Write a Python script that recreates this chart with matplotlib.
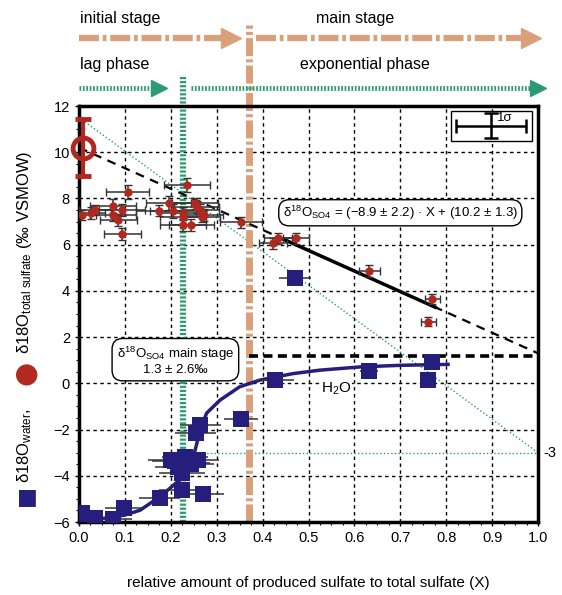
import numpy as np
import matplotlib.pyplot as plt

plt.rcParams['font.family'] = ['Liberation Sans', 'DejaVu Sans']
plt.rcParams['mathtext.fontset'] = 'custom'
plt.rcParams['mathtext.rm'] = 'Liberation Sans'
plt.rcParams['mathtext.it'] = 'Liberation Sans:italic'

# sulfate d18O (red)
so4_x = [0.006, 0.026, 0.035, 0.075, 0.075, 0.086, 0.094, 0.106, 0.094, 0.175,
         0.195, 0.205, 0.235, 0.226, 0.226, 0.226, 0.245, 0.253, 0.256, 0.264,
         0.267, 0.273, 0.353, 0.423, 0.434, 0.473, 0.632, 0.770, 0.761]
so4_y = [7.28, 7.38, 7.50, 7.67, 7.28, 7.06, 7.50, 8.29, 6.46, 7.47,
         7.79, 7.47, 8.58, 7.35, 7.21, 6.85, 6.85, 7.79, 7.64, 7.50,
         7.21, 7.28, 6.96, 6.06, 6.27, 6.27, 4.86, 3.65, 2.66]
so4_xerr = [0.03, 0.03, 0.035, 0.05, 0.05, 0.04, 0.05, 0.047, 0.04, 0.05,
            0.05, 0.05, 0.05, 0.05, 0.05, 0.05, 0.05, 0.05, 0.05, 0.04,
            0.04, 0.04, 0.045, 0.03, 0.03, 0.028, 0.023, 0.016, 0.016]
so4_yerr = [0.2, 0.25, 0.2, 0.3, 0.25, 0.25, 0.25, 0.3, 0.25, 0.25,
            0.3, 0.3, 0.3, 0.3, 0.3, 0.25, 0.25, 0.25, 0.25, 0.25,
            0.25, 0.25, 0.25, 0.25, 0.25, 0.25, 0.25, 0.2, 0.2]

# total sulfate at start
tot_x, tot_y, tot_yerr = 0.008, 10.2, 1.25

# water d18O (blue)
h2o_x = [0.006, 0.035, 0.075, 0.097, 0.176, 0.224, 0.271, 0.20, 0.215, 0.23,
         0.245, 0.26, 0.225, 0.235, 0.21, 0.254, 0.264, 0.352, 0.428, 0.632,
         0.770, 0.761, 0.471]
h2o_y = [-5.6, -5.84, -5.85, -5.38, -4.98, -4.6, -4.77, -3.3, -3.6, -3.2,
         -3.5, -3.3, -3.9, -3.45, -3.35, -2.15, -1.8, -1.55, 0.16, 0.54,
         0.93, 0.14, 4.57]
h2o_xerr = [0.02, 0.04, 0.04, 0.04, 0.045, 0.05, 0.045, 0.05, 0.05, 0.05,
            0.05, 0.045, 0.05, 0.05, 0.05, 0.045, 0.045, 0.037, 0.04, 0.02,
            0.01, 0.01, 0.035]

# fitted water curve
curve_x = [0.0, 0.05, 0.1, 0.133, 0.176, 0.227, 0.249, 0.264, 0.278, 0.307,
           0.35, 0.394, 0.466, 0.525, 0.612, 0.70, 0.804]
curve_y = [-5.95, -5.85, -5.7, -5.49, -4.91, -4.06, -3.2, -2.03, -1.29, -0.73,
           -0.15, 0.14, 0.42, 0.57, 0.71, 0.78, 0.82]

slope, icpt = -8.9, 10.2
main_stage = 1.2
stage_split = 0.37
lag_split = 0.227

red = '#B3281E'
blue = '#261E7C'
orange = '#D9A07A'
green = '#2A9B72'

fig = plt.figure(figsize=(5.62, 5.95), dpi=100)
ax = fig.add_axes([79/562, 1-522/595, 459/562, 416/595])
ax.set_xlim(0, 1.0)
ax.set_ylim(-6, 12)

for g in np.arange(0.1, 1.0, 0.1):
    ax.axvline(g, color='k', lw=1, ls=(0, (2.5, 2.5)), zorder=1)
for g in np.arange(-4, 12, 2):
    ax.axhline(g, color='k', lw=1, ls=(0, (2.5, 2.5)), zorder=1)

# green guide lines
ax.plot([0, 1.0], [11.5, -3.0], color=green, lw=1, ls=':', zorder=2)
ax.plot([0.27, 1.0], [-3.0, -3.0], color=green, lw=1, ls=':', zorder=2)
ax.text(1.012, -3.0, '-3', fontsize=10.5, va='center', ha='left', transform=ax.transData)

# stage / phase vertical lines
ax.plot([lag_split, lag_split], [-6, 13.35], color=green, lw=4.5,
        ls=(0, (0.35, 0.3)), clip_on=False, zorder=2)
ax.plot([stage_split, stage_split], [-6, 15.5], color=orange, lw=5,
        ls=(0, (2.6, 0.45, 0.45, 0.45)), clip_on=False, zorder=2)

# arrows on top
ax.plot([0.0, 0.33], [14.95, 14.95], color=orange, lw=4.5,
        ls=(0, (3.2, 0.6, 0.6, 0.6)), clip_on=False)
ax.plot([0.332], [14.95], marker='>', ms=14, color=orange, clip_on=False)
ax.plot([0.385, 0.985], [14.95, 14.95], color=orange, lw=4.5,
        ls=(0, (3.2, 0.6, 0.6, 0.6)), clip_on=False)
ax.plot([0.985], [14.95], marker='>', ms=14, color=orange, clip_on=False)
ax.plot([0.0, 0.17], [12.8, 12.8], color=green, lw=3.5,
        ls=(0, (0.35, 0.35)), clip_on=False)
ax.plot([0.175], [12.8], marker='>', ms=12, color=green, clip_on=False)
ax.plot([0.245, 1.0], [12.8, 12.8], color=green, lw=3.5,
        ls=(0, (0.35, 0.35)), clip_on=False)
ax.plot([1.0], [12.8], marker='>', ms=12, color=green, clip_on=False)

# sulfate regression
ax.plot([0, 1.0], [icpt, icpt + slope], color='k', lw=1.6, ls=(0, (4, 3)), zorder=3)
ax.plot([0.434, 0.776], [icpt + slope*0.434, icpt + slope*0.776], color='k', lw=2.5, zorder=3)
ax.plot([stage_split, 1.0], [main_stage, main_stage], color='k', lw=2.6, ls=(0, (2.5, 1.5)), zorder=3)

# water curve
ax.plot(curve_x, curve_y, color=blue, lw=2.5, zorder=4)

ax.errorbar(h2o_x, h2o_y, xerr=h2o_xerr, fmt='s', color=blue, ms=11, mew=0,
            ecolor='#333333', elinewidth=1.1, capsize=3, zorder=5)
ax.errorbar(so4_x, so4_y, xerr=so4_xerr, yerr=so4_yerr, fmt='o', color=red, ms=5,
            ecolor='#333333', elinewidth=1.1, capsize=3, zorder=6)
ax.errorbar([tot_x], [tot_y], yerr=[tot_yerr], fmt='o', mfc='none', mec=red, mew=3.5,
            ms=15, ecolor=red, elinewidth=3, capsize=6, capthick=3, clip_on=False, zorder=7)

# annotations
ax.text(0.70, 7.38, r'δ$^{18}$O$_{\mathrm{SO4}}$ = (−8.9 ± 2.2) · X + (10.2 ± 1.3)',
        fontsize=9.5, ha='center', va='center', zorder=8,
        bbox=dict(boxstyle='round,pad=0.3,rounding_size=0.8', fc='white', ec='k', lw=1))
ax.text(0.21, 0.98, 'δ$^{18}$O$_{\\mathrm{SO4}}$ main stage\n1.3 ± 2.6‰',
        fontsize=9.5, ha='center', va='center', linespacing=1.1, zorder=8,
        bbox=dict(boxstyle='round,pad=0.35,rounding_size=0.8', fc='white', ec='k', lw=1))
ax.text(0.56, -0.25, 'H$_2$O', fontsize=11, ha='center', va='center', zorder=8,
        bbox=dict(boxstyle='square,pad=0.05', fc='white', ec='none'))

# 1 sigma key
ax.add_patch(plt.Rectangle((0.81, 10.5), 0.176, 1.3, fc='white', ec='k', lw=1, zorder=8))
ax.errorbar([0.897], [11.15], xerr=[0.076], yerr=[0.54], fmt='none', ecolor='k',
            elinewidth=1.8, capsize=5, capthick=1.8, zorder=9)
ax.text(0.91, 11.5, '1σ', fontsize=9.5, ha='left', va='center', zorder=9)

ax.set_xticks(np.arange(0, 1.01, 0.1))
ax.set_xticklabels(['%.1f' % v for v in np.arange(0, 1.01, 0.1)])
ax.set_xticks(np.arange(0, 1.01, 0.025), minor=True)
ax.set_yticks(np.arange(-6, 13, 2))
ax.set_yticks(np.arange(-6, 12.1, 0.5), minor=True)
ax.tick_params(labelsize=10.5, width=1, length=3, direction='out')
ax.tick_params(which='minor', length=2, width=0.8)
for s in ax.spines.values():
    s.set_linewidth(2.5)

ax.set_xlabel('relative amount of produced sulfate to total sulfate (X)', fontsize=11, labelpad=22)

# y label in pieces
fig.text(25/562, 1-496/595, '■', color=blue, fontsize=16, rotation=90, ha='center', va='center',
         family='DejaVu Sans')
fig.text(25/562, 1-446/595, r'δ18O$_{\mathrm{water}}$,', fontsize=12, rotation=90, ha='center', va='center')
fig.text(25/562, 1-373/595, '●', color=red, fontsize=20, rotation=90, ha='center', va='center',
         family='DejaVu Sans')
fig.text(25/562, 1-252/595, r'δ18O$_{\mathrm{total\ sulfate}}$ (‰ VSMOW)', fontsize=12,
         rotation=90, ha='center', va='center')

fig.text(80/562, 1-18/595, 'initial stage', fontsize=11.5, ha='left', va='center')
fig.text(355/562, 1-18/595, 'main stage', fontsize=11.5, ha='center', va='center')
fig.text(80/562, 1-65/595, 'lag phase', fontsize=11.5, ha='left', va='center')
fig.text(365/562, 1-65/595, 'exponential phase', fontsize=11.5, ha='center', va='center')

fig.savefig('out.png', dpi=100)
